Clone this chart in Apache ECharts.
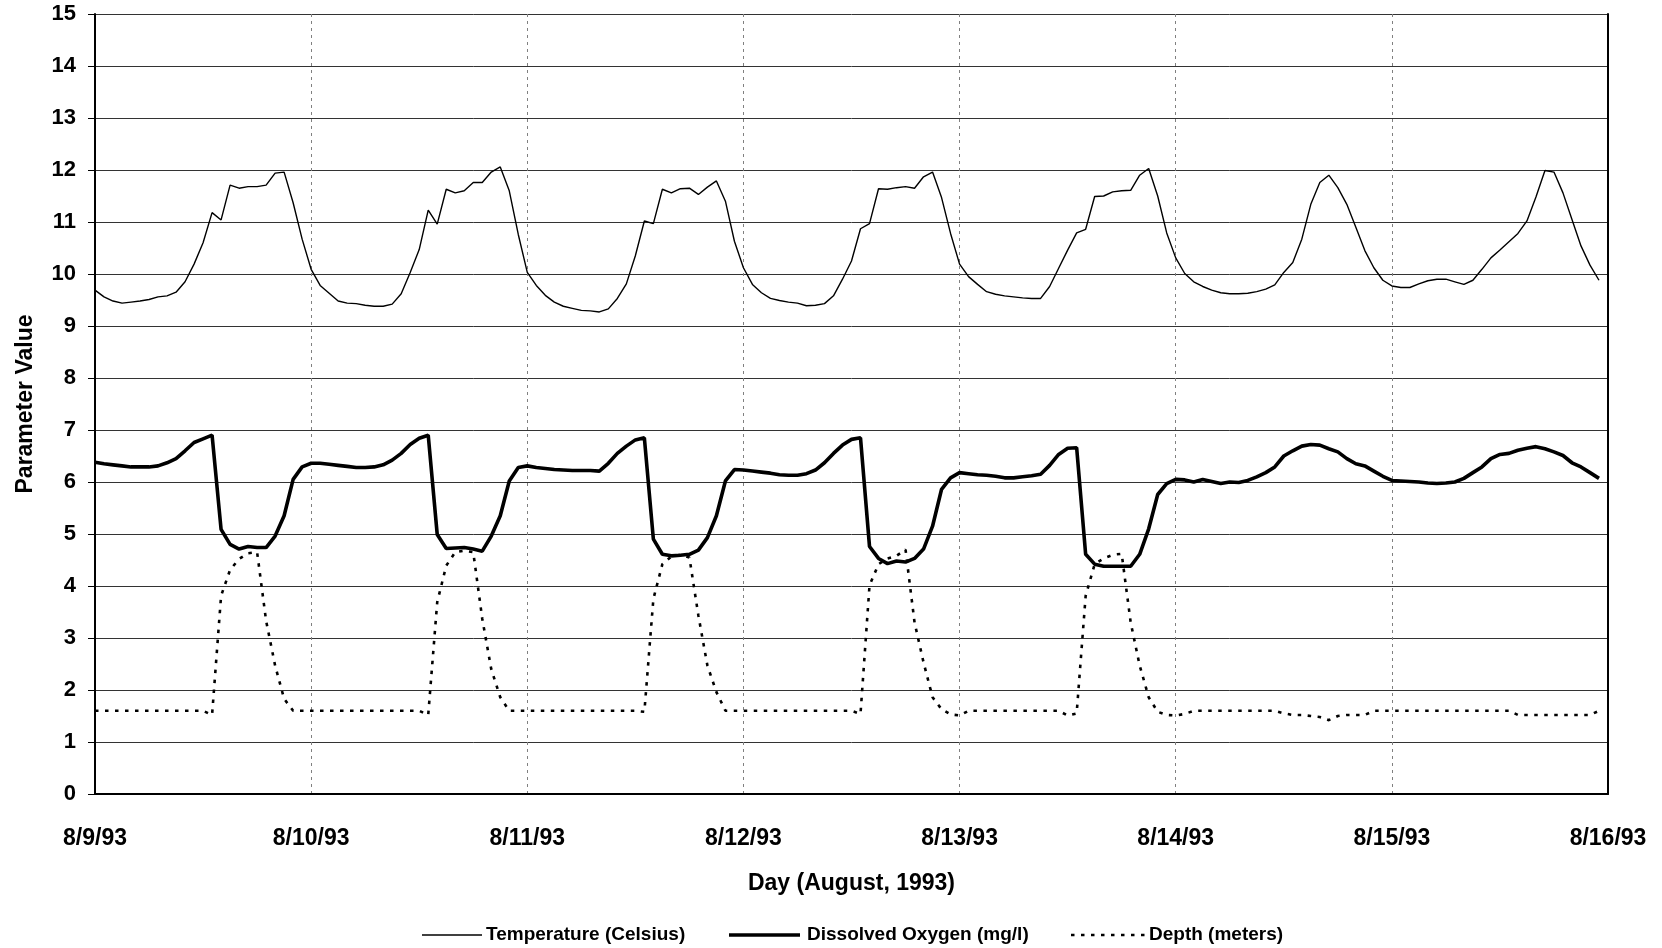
<!DOCTYPE html>
<html>
<head>
<meta charset="utf-8">
<script src="https://cdn.jsdelivr.net/npm/echarts@6/dist/echarts.min.js"></script>
<style>
  html, body { margin: 0; padding: 0; background: #ffffff; }
  #chart { width: 1662px; height: 948px; }
</style>
</head>
<body>
<div id="chart"></div>
<script>
// Day tick labels, one per midnight (x is measured in hours from 8/9/93 00:00)
const dayLabels = ['8/9/93', '8/10/93', '8/11/93', '8/12/93', '8/13/93', '8/14/93', '8/15/93', '8/16/93'];

// Hourly readings, 8/9/93 00:00 through 8/15/93 23:00
const temperature = [
  9.69, 9.56, 9.48, 9.44, 9.46, 9.48, 9.51, 9.56, 9.58, 9.65, 9.85, 10.19,
  10.60, 11.18, 11.04, 11.71, 11.65, 11.68, 11.68, 11.71, 11.94, 11.96, 11.37, 10.67,
  10.09, 9.78, 9.63, 9.48, 9.44, 9.43, 9.40, 9.38, 9.38, 9.42, 9.62, 10.03,
  10.47, 11.23, 10.96, 11.63, 11.56, 11.60, 11.76, 11.76, 11.96, 12.06, 11.60, 10.76,
  10.03, 9.78, 9.59, 9.46, 9.38, 9.34, 9.30, 9.29, 9.27, 9.33, 9.53, 9.81,
  10.35, 11.02, 10.97, 11.63, 11.56, 11.64, 11.65, 11.53, 11.67, 11.79, 11.40, 10.63,
  10.12, 9.80, 9.64, 9.53, 9.49, 9.46, 9.44, 9.39, 9.40, 9.43, 9.58, 9.90,
  10.25, 10.87, 10.97, 11.64, 11.63, 11.66, 11.68, 11.65, 11.87, 11.96, 11.47, 10.78,
  10.19, 9.95, 9.80, 9.66, 9.61, 9.58, 9.56, 9.54, 9.53, 9.53, 9.76, 10.11,
  10.46, 10.79, 10.86, 11.49, 11.50, 11.58, 11.60, 11.61, 11.90, 12.03, 11.50, 10.79,
  10.31, 10.01, 9.85, 9.76, 9.69, 9.64, 9.62, 9.62, 9.63, 9.66, 9.71, 9.79,
  10.03, 10.22, 10.67, 11.34, 11.76, 11.90, 11.66, 11.34, 10.90, 10.45, 10.12, 9.88,
  9.77, 9.74, 9.74, 9.81, 9.87, 9.90, 9.90, 9.85, 9.80, 9.88, 10.09, 10.31,
  10.46, 10.62, 10.78, 11.02, 11.48, 11.99, 11.96, 11.56, 11.05, 10.54, 10.17, 9.88
];

const dissolvedOxygen = [
  6.38, 6.35, 6.33, 6.31, 6.29, 6.29, 6.29, 6.31, 6.37, 6.45, 6.60, 6.76,
  6.83, 6.90, 5.09, 4.80, 4.71, 4.76, 4.74, 4.74, 4.96, 5.35, 6.05, 6.29,
  6.36, 6.36, 6.34, 6.32, 6.30, 6.28, 6.28, 6.29, 6.33, 6.42, 6.55, 6.72,
  6.84, 6.90, 4.99, 4.72, 4.73, 4.74, 4.71, 4.67, 4.96, 5.35, 6.02, 6.28,
  6.31, 6.28, 6.26, 6.24, 6.23, 6.22, 6.22, 6.22, 6.21, 6.36, 6.55, 6.69,
  6.81, 6.85, 4.90, 4.61, 4.58, 4.59, 4.61, 4.69, 4.93, 5.35, 6.02, 6.24,
  6.23, 6.21, 6.19, 6.17, 6.14, 6.13, 6.13, 6.16, 6.23, 6.37, 6.55, 6.71,
  6.82, 6.85, 4.76, 4.53, 4.43, 4.48, 4.46, 4.53, 4.71, 5.15, 5.86, 6.08,
  6.18, 6.16, 6.14, 6.13, 6.11, 6.08, 6.08, 6.10, 6.12, 6.15, 6.32, 6.53,
  6.65, 6.66, 4.61, 4.42, 4.38, 4.38, 4.38, 4.38, 4.61, 5.10, 5.76, 5.97,
  6.05, 6.04, 6.00, 6.05, 6.01, 5.97, 6.00, 5.99, 6.03, 6.10, 6.18, 6.29,
  6.50, 6.60, 6.69, 6.72, 6.71, 6.64, 6.58, 6.45, 6.35, 6.31, 6.21, 6.11,
  6.03, 6.02, 6.01, 6.00, 5.98, 5.97, 5.98, 6.00, 6.07, 6.18, 6.29, 6.45,
  6.53, 6.55, 6.61, 6.65, 6.68, 6.64, 6.58, 6.51, 6.37, 6.29, 6.18, 6.07
];

const depth = [
  1.60, 1.60, 1.60, 1.60, 1.60, 1.60, 1.60, 1.60, 1.60, 1.60, 1.60, 1.60,
  1.60, 1.52, 3.81, 4.31, 4.52, 4.63, 4.65, 3.33, 2.47, 1.83, 1.60, 1.60,
  1.60, 1.60, 1.60, 1.60, 1.60, 1.60, 1.60, 1.60, 1.60, 1.60, 1.60, 1.60,
  1.60, 1.52, 3.69, 4.39, 4.65, 4.68, 4.65, 3.37, 2.40, 1.86, 1.60, 1.60,
  1.60, 1.60, 1.60, 1.60, 1.60, 1.60, 1.60, 1.60, 1.60, 1.60, 1.60, 1.60,
  1.60, 1.58, 3.75, 4.42, 4.57, 4.60, 4.55, 3.43, 2.47, 1.96, 1.60, 1.60,
  1.60, 1.60, 1.60, 1.60, 1.60, 1.60, 1.60, 1.60, 1.60, 1.60, 1.60, 1.60,
  1.60, 1.54, 4.01, 4.42, 4.53, 4.58, 4.70, 3.30, 2.53, 1.86, 1.63, 1.53,
  1.51, 1.60, 1.60, 1.60, 1.60, 1.60, 1.60, 1.60, 1.60, 1.60, 1.60, 1.60,
  1.51, 1.55, 3.81, 4.42, 4.53, 4.60, 4.62, 3.30, 2.47, 1.86, 1.58, 1.52,
  1.51, 1.54, 1.60, 1.60, 1.60, 1.60, 1.60, 1.60, 1.60, 1.60, 1.60, 1.60,
  1.55, 1.52, 1.52, 1.50, 1.48, 1.42, 1.50, 1.52, 1.52, 1.52, 1.60, 1.60,
  1.60, 1.60, 1.60, 1.60, 1.60, 1.60, 1.60, 1.60, 1.60, 1.60, 1.60, 1.60,
  1.60, 1.60, 1.52, 1.52, 1.52, 1.52, 1.52, 1.52, 1.52, 1.52, 1.52, 1.60
];

const seriesNames = ['Temperature (Celsius)', 'Dissolved Oxygen (mg/l)', 'Depth (meters)'];

const HOURS_PER_DAY = 24;
const totalHours = (dayLabels.length - 1) * HOURS_PER_DAY;
const asPoints = values => values.map((v, hour) => [hour, v]);

const FONT = "'Liberation Sans', Arial, Helvetica, sans-serif";
const boldText = (size) => ({ fontFamily: FONT, fontWeight: 'bold', fontSize: size, color: '#000' });

// Line looks shared by the series and their legend keys
const lineLooks = [
  { color: '#000', width: 1.4 },
  { color: '#000', width: 3.6 },
  { color: '#000', width: 2.6, type: [3.5, 6.5] }
];

// Legend row: sample stroke followed by its caption
const LEGEND_Y = 935;
const legendKeys = [
  { x1: 422, x2: 482, textX: 486 },
  { x1: 729, x2: 800, textX: 807 },
  { x1: 1071, x2: 1145, textX: 1149 }
];
const legendGraphics = [];
legendKeys.forEach((k, i) => {
  const look = lineLooks[i];
  legendGraphics.push({
    type: 'line',
    shape: { x1: k.x1, y1: LEGEND_Y, x2: k.x2, y2: LEGEND_Y },
    style: { stroke: look.color, lineWidth: look.width, lineDash: look.type || null },
    silent: true
  });
  legendGraphics.push({
    type: 'text',
    x: k.textX,
    y: LEGEND_Y,
    style: {
      text: seriesNames[i],
      fontFamily: FONT, fontWeight: 'bold', fontSize: 19,
      fill: '#000', verticalAlign: 'middle', align: 'left'
    },
    silent: true
  });
});

const chart = echarts.init(document.getElementById('chart'), null, { renderer: 'canvas' });

chart.setOption({
  animation: false,
  backgroundColor: '#ffffff',
  grid: { left: 95, right: 54, top: 14, bottom: 154, containLabel: false },
  graphic: legendGraphics,
  xAxis: {
    type: 'value',
    min: 0,
    max: totalHours,
    interval: HOURS_PER_DAY,
    axisLine: { show: true, lineStyle: { color: '#000', width: 2 } },
    axisTick: { show: false },
    axisLabel: Object.assign({
      margin: 33,
      showMinLabel: true,
      showMaxLabel: true,
      formatter: v => dayLabels[Math.round(v / HOURS_PER_DAY)]
    }, boldText(23)),
    splitLine: { show: true, lineStyle: { type: [3, 4], color: '#808080', width: 1 } },
    name: 'Day (August, 1993)',
    nameLocation: 'middle',
    nameGap: 78,
    nameTextStyle: boldText(23)
  },
  yAxis: [
    {
      type: 'value',
      min: 0,
      max: 15,
      interval: 1,
      axisLine: { show: true, lineStyle: { color: '#000', width: 2 } },
      axisTick: { show: true, length: 7, lineStyle: { color: '#000', width: 1 } },
      axisLabel: Object.assign({ margin: 19 }, boldText(22)),
      splitLine: { show: true, lineStyle: { color: '#333', width: 1 } },
      name: 'Parameter Value',
      nameLocation: 'middle',
      nameGap: 58,
      nameRotate: 90,
      nameTextStyle: boldText(23)
    },
    {
      type: 'value',
      min: 0,
      max: 15,
      interval: 1,
      position: 'right',
      axisLine: { show: true, lineStyle: { color: '#000', width: 2 } },
      axisTick: { show: false },
      axisLabel: { show: false },
      splitLine: { show: false }
    }
  ],
  series: seriesNames.map((name, i) => ({
    name: name,
    type: 'line',
    data: asPoints([temperature, dissolvedOxygen, depth][i]),
    symbol: 'none',
    lineStyle: lineLooks[i],
    itemStyle: { color: '#000' },
    z: i === 2 ? 4 : 3
  }))
});
</script>
</body>
</html>
